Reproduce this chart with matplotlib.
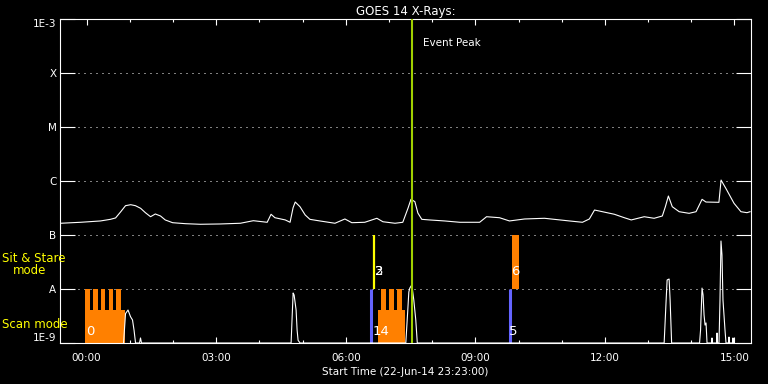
import matplotlib
matplotlib.use('Agg')
import matplotlib.pyplot as plt
from matplotlib.ticker import NullLocator

# GOES 14 long channel, hours after 00:00 (start 22-Jun-14 23:23)
goes_hours = [-0.60, -0.14, 0.32, 0.55, 0.67, 0.79, 0.90, 1.02, 1.13, 1.25, 1.36, 1.48,
              1.59, 1.71, 1.82, 1.99, 2.29, 2.63, 3.09, 3.56, 3.86, 4.18, 4.27, 4.36,
              4.60, 4.71, 4.78, 4.83, 4.94, 5.06, 5.17, 5.40, 5.75, 5.98, 6.14, 6.44,
              6.72, 6.86, 7.14, 7.32, 7.44, 7.51, 7.60, 7.67, 7.76, 7.94, 8.29, 8.64,
              9.10, 9.26, 9.56, 9.79, 10.14, 10.60, 11.18, 11.48, 11.64, 11.76, 11.87,
              12.22, 12.45, 12.61, 12.91, 13.14, 13.33, 13.40, 13.47, 13.56, 13.72,
              13.95, 14.11, 14.25, 14.34, 14.64, 14.69, 14.80, 14.99, 15.15, 15.29, 15.36]
goes_flux = [1.65e-7, 1.72e-7, 1.82e-7, 1.95e-7, 2.07e-7, 2.70e-7, 3.49e-7, 3.64e-7,
             3.49e-7, 3.12e-7, 2.59e-7, 2.18e-7, 2.45e-7, 2.25e-7, 1.90e-7, 1.69e-7,
             1.62e-7, 1.58e-7, 1.60e-7, 1.65e-7, 1.84e-7, 1.72e-7, 2.42e-7, 2.09e-7,
             1.90e-7, 1.72e-7, 3.20e-7, 4.08e-7, 3.34e-7, 2.35e-7, 1.95e-7, 1.82e-7,
             1.65e-7, 1.98e-7, 1.69e-7, 1.72e-7, 2.04e-7, 1.76e-7, 1.65e-7, 1.72e-7,
             3.12e-7, 4.58e-7, 4.14e-7, 2.55e-7, 1.95e-7, 1.90e-7, 1.82e-7, 1.72e-7,
             1.72e-7, 2.18e-7, 2.09e-7, 1.82e-7, 1.98e-7, 2.04e-7, 1.82e-7, 1.72e-7,
             1.98e-7, 2.90e-7, 2.78e-7, 2.42e-7, 2.09e-7, 1.90e-7, 2.18e-7, 2.04e-7,
             2.25e-7, 3.34e-7, 5.27e-7, 3.34e-7, 2.70e-7, 2.52e-7, 2.70e-7, 4.58e-7,
             4.08e-7, 4.03e-7, 1.04e-6, 7.32e-7, 3.86e-7, 2.70e-7, 2.59e-7, 2.70e-7]

# lower trace, only the bursts above 1E-9 show
burst_hours = [0.855, 0.90, 0.958, 1.016, 1.062, 1.097, 1.132, 1.224, 1.247, 1.27,
               4.734, 4.757, 4.781, 4.804, 4.850, 4.873, 4.896, 4.942,
               7.390, 7.436, 7.460, 7.483, 7.529, 7.575, 7.621, 7.656,
               13.372, 13.418, 13.441, 13.487, 13.510, 13.545,
               14.192, 14.215, 14.249, 14.273, 14.296, 14.319, 14.342, 14.365,
               14.469, 14.480, 14.492, 14.584, 14.596, 14.607,
               14.642, 14.665, 14.688, 14.711, 14.734, 14.781, 14.804,
               14.861, 14.873, 14.884, 14.954, 14.965, 14.977]
burst_flux = [1.0e-9, 3.5e-9, 4.08e-9, 3.07e-9, 2.67e-9, 1.74e-9, 1.0e-9, 1.0e-9, 1.24e-9, 1.0e-9,
              1.0e-9, 2.90e-9, 8.43e-9, 7.74e-9, 4.08e-9, 1.74e-9, 1.12e-9, 1.0e-9,
              1.0e-9, 4.08e-9, 8.80e-9, 1.04e-8, 1.19e-8, 6.26e-9, 2.67e-9, 1.0e-9,
              1.0e-9, 6.26e-9, 1.47e-8, 1.53e-8, 6.26e-9, 1.0e-9,
              1.0e-9, 1.74e-9, 1.04e-8, 7.74e-9, 3.30e-9, 2.15e-9, 2.35e-9, 1.0e-9,
              1.0e-9, 1.24e-9, 1.0e-9, 1.0e-9, 1.53e-9, 1.0e-9,
              1.0e-9, 6.26e-9, 7.74e-8, 4.26e-8, 6.26e-9, 1.74e-9, 1.0e-9,
              1.0e-9, 1.29e-9, 1.0e-9, 1.0e-9, 1.24e-9, 1.0e-9]

# IRIS observations
scan_start = [-0.046, 6.744]
scan_end = [0.878, 7.367]
scan_level = [4.08e-9, 4.08e-9]
step_start = [-0.046, 0.139, 0.323, 0.508, 0.670, 6.813, 6.998, 7.182]
step_end = [0.069, 0.254, 0.416, 0.600, 0.785, 6.928, 7.113, 7.298]
sit_start = [9.838]
sit_end = [10.0]
scan_marks = [6.594, 9.804]
sit_marks = [6.651]
obs_labels = ['0', '14', '5', '2', '3', '6']
obs_label_x = [-0.02, 6.63, 9.77, 6.67, 6.67, 9.84]
obs_label_mode = ['scan', 'scan', 'scan', 'sit', 'sit', 'sit']

event_peak = 7.53

level_values = [1e-9, 1e-8, 1e-7, 1e-6, 1e-5, 1e-4, 1e-3]
level_labels = ['1E-9', 'A', 'B', 'C', 'M', 'X', '1E-3']
hour_ticks = [0, 3, 6, 9, 12, 15]
hour_labels = ['00:00', '03:00', '06:00', '09:00', '12:00', '15:00']
start_hour = -0.617
end_hour = 15.383

orange = '#ff8000'
blue = '#6464ff'
peak_color = '#a0d000'

fig = plt.figure(figsize=(7.68, 3.84), dpi=100, facecolor='black')
ax = fig.add_axes([60 / 768, 1 - 343 / 384, 691 / 768, 324 / 384])
ax.set_facecolor('black')
ax.set_yscale('log')
ax.set_ylim(1e-9, 1e-3)
ax.set_xlim(start_hour, end_hour)

# observation blocks
ax.bar(scan_start, [v - 1e-9 for v in scan_level], bottom=1e-9,
       width=[e - s for s, e in zip(scan_start, scan_end)], align='edge',
       color=orange, linewidth=0, zorder=2)
ax.bar(step_start, 1e-8 - 1e-9, bottom=1e-9,
       width=[e - s for s, e in zip(step_start, step_end)], align='edge',
       color=orange, linewidth=0, zorder=2)
ax.bar(sit_start, 1e-7 - 1e-8, bottom=1e-8,
       width=[e - s for s, e in zip(sit_start, sit_end)], align='edge',
       color=orange, linewidth=0, zorder=2)
ax.vlines(scan_marks, 1e-9, 1e-8, color=blue, lw=2.2, zorder=2)
ax.vlines(sit_marks, 1e-8, 1e-7, color='yellow', lw=1.6, zorder=2)

ax.plot(goes_hours, goes_flux, color='white', lw=0.8, zorder=3)
ax.plot(burst_hours, burst_flux, color='white', lw=0.8, zorder=3)

for lab, x, mode in zip(obs_labels, obs_label_x, obs_label_mode):
    y = 1.6e-9 if mode == 'scan' else 2.07e-8
    ax.text(x, y, lab, color='white', fontsize=9.5, ha='left', va='center', zorder=5)

ax.axvline(event_peak, color=peak_color, lw=1.5, zorder=4)
ax.text(event_peak + 0.25, 0.926, 'Event Peak', color='white', fontsize=7.5,
        ha='left', va='center', transform=ax.get_xaxis_transform())

# axes styling
for sp in ax.spines.values():
    sp.set_color('white')
    sp.set_linewidth(0.8)
ax.set_yticks(level_values)
ax.set_yticklabels(level_labels)
ax.yaxis.set_minor_locator(NullLocator())
ax.set_xticks(hour_ticks)
ax.set_xticklabels(hour_labels)
ax.set_xticks(range(0, 16), minor=True)
ax.tick_params(axis='y', which='major', direction='in', length=10.8, width=0.8,
               color='white', labelcolor='white', labelsize=7.5, left=True, right=True, pad=2.5)
ax.tick_params(axis='x', which='major', direction='in', length=4.3, width=0.8,
               color='white', labelcolor='white', labelsize=7.5, top=True, bottom=True, pad=7)
ax.tick_params(axis='x', which='minor', direction='in', length=2.5, width=0.8,
               color='white', top=True, bottom=True)
ylabels = ax.get_yticklabels()
ylabels[0].set_va('bottom')
ylabels[-1].set_va('top')
ax.grid(axis='y', which='major', color='white', lw=0.72, linestyle=(0, (1, 5)))

ax.set_title('GOES 14 X-Rays:', color='white', fontsize=8.5, pad=3)
ax.set_xlabel('Start Time (22-Jun-14 23:23:00)', color='white', fontsize=7.5, labelpad=3)

fig.text(2 / 768, 1 - 258.5 / 384, 'Sit & Stare', color='yellow', fontsize=8.5,
         ha='left', va='center')
fig.text(13 / 768, 1 - 271 / 384, 'mode', color='yellow', fontsize=8.5,
         ha='left', va='center')
fig.text(2 / 768, 1 - 324 / 384, 'Scan mode', color='yellow', fontsize=8.5,
         ha='left', va='center')

fig.savefig('out.png', dpi=100, facecolor='black')
